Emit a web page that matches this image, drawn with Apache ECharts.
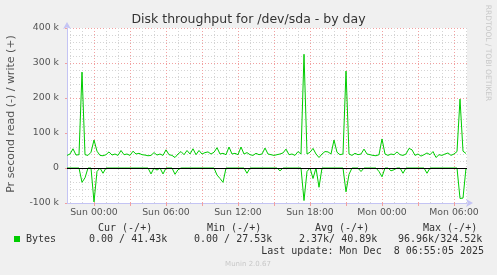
<!DOCTYPE html>
<html><head><meta charset="utf-8">
<script src="https://cdn.jsdelivr.net/npm/echarts@6/dist/echarts.min.js"></script>
<style>html,body{margin:0;padding:0;background:#f0f0f0}#c{width:497px;height:275px}</style>
</head><body><div id="c"></div>
<script>
// Time sampling: hours relative to Sun 00:00, one sample every 15 minutes
const startHour = -2.25;
const stepHour = 0.25;
const spanHours = 400 * 5 / 60;

// write bytes per second (k)
const writeK = [
  36,40,55,37,38,274,38,36,45,80,
  48,36,35,38,46,37,40,36,50,38,
  40,36,48,40,42,38,37,35,36,44,
  37,40,36,52,38,36,30,40,47,38,
  50,40,55,38,50,40,44,46,40,45,
  58,40,42,38,60,40,42,38,60,40,
  44,38,36,42,38,40,57,40,38,36,
  38,40,43,54,38,40,36,47,40,325,
  40,45,56,40,30,40,47,46,40,80,
  45,38,40,277,40,36,42,38,40,54,
  40,38,36,35,38,83,40,36,40,38,
  46,38,36,40,56,52,36,40,34,38,
  43,38,47,30,38,36,40,43,36,40,
  47,197,48,41.43
];
// read bytes per second (k), drawn below zero
const readK = [
  0,0,0,0,0,41,28,0,0,97,
  10,0,15,0,0,0,0,0,0,0,
  0,0,0,0,0,0,0,0,17,0,
  6,0,17,0,0,0,18,5,0,0,
  0,0,0,0,0,0,0,0,0,0,
  20,30,41,0,0,0,0,0,0,0,
  15,0,0,0,0,0,0,0,0,0,
  0,8,0,0,0,0,0,0,0,93,
  10,0,30,0,55,0,0,0,0,0,
  0,0,0,68,18,0,0,0,10,0,
  0,0,0,0,10,25,0,0,8,5,
  0,0,15,0,0,0,0,0,0,0,
  15,0,0,0,0,0,0,0,0,0,
  0,87,86,0
];

const xTickHours = [0, 6, 12, 18, 24, 30];
const xTickLabels = ['Sun 00:00', 'Sun 06:00', 'Sun 12:00', 'Sun 18:00', 'Mon 00:00', 'Mon 06:00'];
const xMajorHours = [0, 3, 6, 9, 12, 15, 18, 21, 24, 27, 30];
const xMinorHours = [-2,-1,0,1,2,3,4,5,6,7,8,9,10,11,12,13,14,15,16,17,18,19,20,21,22,23,24,25,26,27,28,29,30,31];
const yTicks = [-100000, 0, 100000, 200000, 300000, 400000];
const yTickLabels = ['-100 k', '0', '100 k', '200 k', '300 k', '400 k'];

const titleText = 'Disk throughput for /dev/sda - by day';
const yAxisTitle = 'Pr second read (-) / write (+)';
const legendName = 'Bytes';
const legendHeaders = ['Cur (-/+)', 'Min (-/+)', 'Avg (-/+)', 'Max (-/+)'];
const legendValues = ['0.00 / 41.43k', '0.00 / 27.53k', '2.37k/ 40.89k', '96.96k/324.52k'];
const lastUpdate = 'Last update: Mon Dec  8 06:55:05 2025';
const footer = 'Munin 2.0.67';
const sideText = 'RRDTOOL / TOBI OETIKER';

const green = '#00cc00';
const redGrid = '#f2a0a0';
const grayGrid = '#d4d4d4';
const axisBlue = '#c4c4f4';
const sans = '"DejaVu Sans"';
const mono = '"DejaVu Sans Mono"';

const writeData = writeK.map((v, i) => [startHour + i * stepHour, v * 1000]);
const readData = readK.map((v, i) => [startHour + i * stepHour, -v * 1000]);

const headerX = [98, 207, 315, 423];
const valueX = [89, 194, 299, 398];
const graphics = [
  { type: 'text', x: 248.5, y: 19.5, style: { text: titleText, font: '12.5px ' + sans, fill: '#333', textAlign: 'center', textVerticalAlign: 'middle' } },
  { type: 'text', x: 11, y: 114, rotation: Math.PI / 2, style: { text: yAxisTitle, font: '11px ' + sans, fill: '#555', textAlign: 'center', textVerticalAlign: 'middle' } },
  { type: 'text', x: 488, y: 53, rotation: -Math.PI / 2, style: { text: sideText, font: '7.5px ' + sans, fill: '#c8c8c8', textAlign: 'center', textVerticalAlign: 'middle' } },
  { type: 'rect', shape: { x: 14, y: 236, width: 6, height: 6 }, style: { fill: green } },
  { type: 'text', x: 26, y: 239.5, style: { text: legendName, font: '10px ' + mono, fill: '#333', textAlign: 'left', textVerticalAlign: 'middle' } },
  { type: 'text', x: 484, y: 251, style: { text: lastUpdate, font: '10px ' + mono, fill: '#333', textAlign: 'right', textVerticalAlign: 'middle' } },
  { type: 'text', x: 248, y: 264.5, style: { text: footer, font: '7px ' + sans, fill: '#c8c8c8', textAlign: 'center', textVerticalAlign: 'middle' } }
];
legendHeaders.forEach((t, k) => graphics.push({ type: 'text', x: headerX[k], y: 228, style: { text: t, font: '10px ' + mono, fill: '#333', textAlign: 'left', textVerticalAlign: 'middle' } }));
legendValues.forEach((t, k) => graphics.push({ type: 'text', x: valueX[k], y: 239.5, style: { text: t, font: '10px ' + mono, fill: '#333', textAlign: 'left', textVerticalAlign: 'middle' } }));

const chart = echarts.init(document.getElementById('c'), null, { renderer: 'canvas' });
chart.setOption({
  animation: false,
  backgroundColor: '#f0f0f0',
  grid: { left: 67, top: 28, width: 400, height: 175, show: true, backgroundColor: '#ffffff', borderWidth: 0 },
  xAxis: [
    {
      type: 'value', min: startHour, max: startHour + spanHours, position: 'bottom',
      axisLine: { show: true, onZero: false, lineStyle: { color: axisBlue, width: 1 }, symbol: ['none', 'arrow'], symbolSize: [6, 7], symbolOffset: [0, 6] },
      axisTick: { show: false, customValues: xMinorHours },
      axisLabel: { show: false },
      splitLine: { show: true, lineStyle: { color: grayGrid, type: [1, 2], width: 1 } }
    },
    {
      type: 'value', min: startHour, max: startHour + spanHours, position: 'bottom',
      axisLine: { show: false, onZero: false },
      axisTick: { show: true, length: 3, customValues: xMajorHours, lineStyle: { color: redGrid } },
      axisLabel: {
        show: true, customValues: xTickHours, margin: 5, color: '#555', fontSize: 9.33, fontFamily: 'DejaVu Sans',
        formatter: v => xTickLabels[xTickHours.indexOf(v)]
      },
      splitLine: { show: true, lineStyle: { color: redGrid, type: [1, 2], width: 1 } }
    }
  ],
  yAxis: {
    type: 'value', min: -100000, max: 400000, interval: 100000,
    axisLine: { show: true, onZero: false, lineStyle: { color: axisBlue, width: 1 }, symbol: ['none', 'arrow'], symbolSize: [6, 7], symbolOffset: [0, 6] },
    axisTick: { show: true, length: 2, lineStyle: { color: redGrid } },
    axisLabel: {
      margin: 8, color: '#555', fontSize: 9.33, fontFamily: 'DejaVu Sans',
      formatter: v => yTickLabels[yTicks.indexOf(v)]
    },
    splitLine: { show: true, lineStyle: { color: redGrid, type: [1, 2], width: 1 } },
    minorTick: { show: false, splitNumber: 5 },
    minorSplitLine: { show: true, lineStyle: { color: grayGrid, type: [1, 2], width: 1 } }
  },
  graphic: graphics,
  series: [
    {
      type: 'line', name: 'write', xAxisIndex: 0, data: writeData, symbol: 'none', showSymbol: false,
      lineStyle: { color: green, width: 1 }, itemStyle: { color: green },
      markLine: { silent: true, symbol: 'none', label: { show: false }, lineStyle: { color: '#000', type: 'solid', width: 1 }, data: [{ yAxis: 0 }] }
    },
    {
      type: 'line', name: 'read', xAxisIndex: 0, data: readData, symbol: 'none', showSymbol: false,
      lineStyle: { color: green, width: 1 }, itemStyle: { color: green }
    }
  ]
});
</script></body></html>
